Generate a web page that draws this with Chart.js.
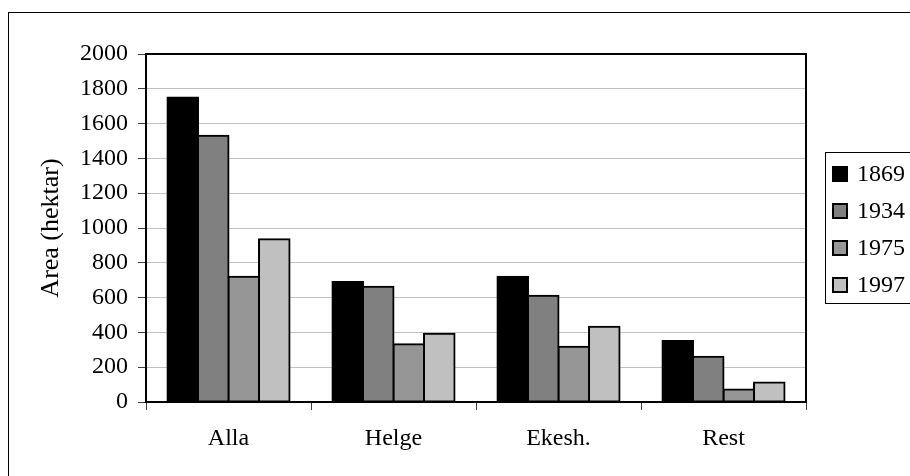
<!DOCTYPE html>
<html>
<head>
<meta charset="utf-8">
<script src="https://cdn.jsdelivr.net/npm/chart.js@4/dist/chart.umd.min.js"></script>
<style>
  html, body { margin: 0; padding: 0; background: #fff; }
  #wrap { width: 910px; height: 476px; }
</style>
</head>
<body>
<div id="wrap"><canvas id="chart" width="910" height="476"></canvas></div>
<script>
// Area per district and survey year
const categories = ["Alla", "Helge", "Ekesh.", "Rest"];
const years = ["1869", "1934", "1975", "1997"];
const area1869 = [1750, 690, 720, 350];
const area1934 = [1530, 662, 610, 260];
const area1975 = [720, 332, 318, 72];
const area1997 = [936, 392, 432, 112];
const yTicks = [0, 200, 400, 600, 800, 1000, 1200, 1400, 1600, 1800, 2000];

const fills = ["#000000", "#808080", "#969696", "#c0c0c0"];
const serif = "'Liberation Serif', 'Times New Roman', serif";

Chart.defaults.font.family = serif;
Chart.defaults.font.size = 24;
Chart.defaults.color = "#000";

// white page + thin outer frame
const pageFrame = {
  id: "pageFrame",
  beforeDraw(chart) {
    const ctx = chart.ctx;
    ctx.save();
    ctx.fillStyle = "#fff";
    ctx.fillRect(0, 0, chart.width, chart.height);
    ctx.strokeStyle = "#000";
    ctx.lineWidth = 1;
    ctx.strokeRect(8.5, 12.5, chart.width + 10, chart.height + 10);
    ctx.restore();
  },
  afterDraw(chart) {
    // black box around the plot area
    const a = chart.chartArea;
    const ctx = chart.ctx;
    ctx.save();
    ctx.strokeStyle = "#000";
    ctx.lineWidth = 2;
    ctx.strokeRect(a.left, a.top, a.right - a.left, a.bottom - a.top);
    ctx.restore();
  }
};

// boxed legend to the right of the plot
const sideLegend = {
  id: "sideLegend",
  afterDraw(chart) {
    const ctx = chart.ctx;
    const x0 = 825.5, y0 = 152.5, h = 151;
    ctx.save();
    ctx.strokeStyle = "#000";
    ctx.lineWidth = 1;
    ctx.strokeRect(x0, y0, 120, h);
    ctx.font = "24px " + serif;
    ctx.textBaseline = "middle";
    ctx.textAlign = "left";
    chart.data.datasets.forEach((ds, i) => {
      const cy = 174 + i * 37;
      ctx.fillStyle = ds.backgroundColor;
      ctx.fillRect(833, cy - 7, 14, 14);
      ctx.lineWidth = 2;
      ctx.strokeRect(833, cy - 7, 14, 14);
      ctx.fillStyle = "#000";
      ctx.fillText(ds.label, 857, cy + 1);
    });
    ctx.restore();
  }
};

const seriesValues = [area1869, area1934, area1975, area1997];

new Chart(document.getElementById("chart"), {
  type: "bar",
  data: {
    labels: categories,
    datasets: years.map((y, i) => ({
      label: y,
      data: seriesValues[i],
      backgroundColor: fills[i],
      borderColor: "#000",
      borderWidth: 2,
      borderSkipped: false,
      inflateAmount: 1,
      categoryPercentage: 0.74,
      barPercentage: 1.0
    }))
  },
  options: {
    responsive: false,
    animation: false,
    layout: { padding: { left: 0, top: 54, right: 104, bottom: 0 } },
    plugins: {
      legend: { display: false },
      tooltip: { enabled: false }
    },
    scales: {
      x: {
        border: { display: false },
        grid: {
          offset: true,
          drawOnChartArea: false,
          tickLength: 8,
          tickColor: "#404040",
          tickWidth: 1
        },
        ticks: { padding: 14 },
        afterFit(scale) { scale.height = 74; }
      },
      y: {
        min: 0,
        max: 2000,
        border: { display: false },
        afterBuildTicks(scale) { scale.ticks = yTicks.map(v => ({ value: v })); },
        grid: {
          color: "#c0c0c0",
          lineWidth: 1,
          tickLength: 8,
          tickColor: "#404040"
        },
        ticks: { padding: 10, callback: v => String(v) },
        title: {
          display: true,
          text: "Area (hektar)",
          font: { size: 26 },
          padding: { top: 36, bottom: 0 }
        },
        afterFit(scale) { scale.width = 146; }
      }
    }
  },
  plugins: [pageFrame, sideLegend]
});
</script>
</body>
</html>
